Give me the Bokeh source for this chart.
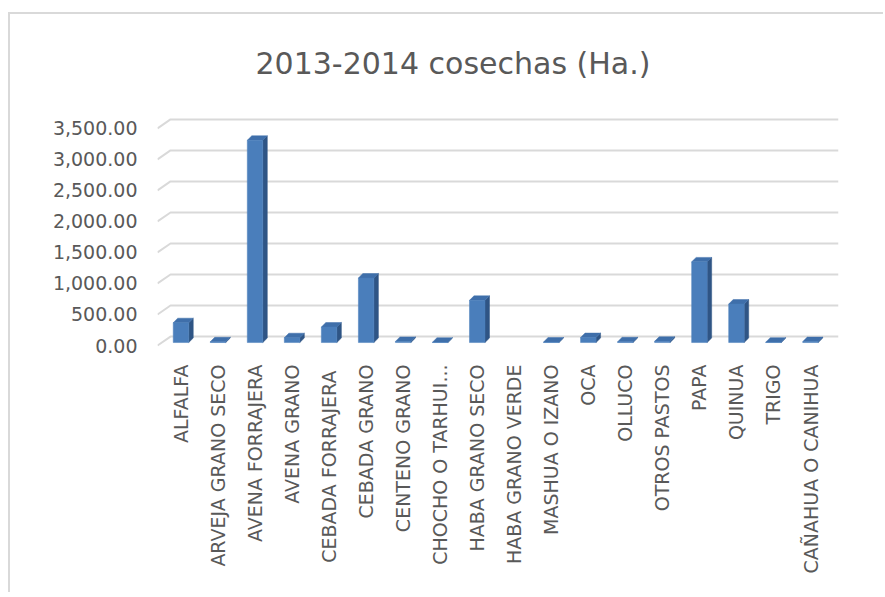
import math
from bokeh.plotting import figure
from bokeh.models import FixedTicker, NumeralTickFormatter
from bokeh.embed import file_html
from bokeh.resources import INLINE

# ---- data ----
crops = [
    "ALFALFA", "ARVEJA GRANO SECO", "AVENA FORRAJERA", "AVENA GRANO",
    "CEBADA  FORRAJERA", "CEBADA GRANO", "CENTENO GRANO", "CHOCHO O TARHUI...",
    "HABA GRANO SECO", "HABA GRANO VERDE", "MASHUA O IZANO", "OCA", "OLLUCO",
    "OTROS PASTOS", "PAPA", "QUINUA", "TRIGO", "CAÑAHUA O CANIHUA",
]
hectares = [320, 12, 3260, 78, 250, 1040, 18, 5, 680, 0, 8, 80, 12, 20, 1300, 620, 6, 15]
y_ticks = [0, 500, 1000, 1500, 2000, 2500, 3000, 3500]
title_text = "2013-2014  cosechas (Ha.)"

# ---- geometry helpers (pixel -> data units) ----
PX_X = 1 / 37.03
PX_Y = 16.05
BAR_W = 15.5 * PX_X
DEPTH_X = 4.5 * PX_X
DEPTH_Y = 4.5 * PX_Y
BASE = 3 * PX_Y
WALL_X = 13 * PX_X
WALL_Y = 9 * PX_Y

x_start = -23.5 * PX_X
x_end = (len(crops) - 1) + 28 * PX_X
y_start = -5 * PX_Y
y_end = y_start + 240 * PX_Y

TEXT = "#595959"
FONT = "DejaVu Sans"

p = figure(
    width=875, height=580,
    x_range=(x_start, x_end), y_range=(y_start, y_end),
    output_backend="svg", toolbar_location=None,
    min_border_left=147, min_border_right=47,
    min_border_top=96, min_border_bottom=244,
)
p.styles = {
    "margin-top": "12px",
    "margin-left": "8px",
    "border-top": "2px solid #D9D9D9",
    "border-left": "2px solid #D9D9D9",
}

# gridlines with the 3D wall slant
gx, gy = [], []
for v in y_ticks:
    gx.append([x_start, x_start + WALL_X, x_end])
    gy.append([v, v + WALL_Y, v + WALL_Y])
p.multi_line(gx, gy, line_color="#D9D9D9", line_width=2)

# bars (front, side, top faces)
fl, fr, fb, ft = [], [], [], []
sx, sy, tx, ty = [], [], [], []
for i, v in enumerate(hectares):
    if v <= 0:
        continue
    l, r = i - BAR_W / 2, i + BAR_W / 2
    b, t = BASE, v + BASE
    fl.append(l); fr.append(r); fb.append(b); ft.append(t)
    sx.append([r, r + DEPTH_X, r + DEPTH_X, r])
    sy.append([b, b + DEPTH_Y, t + DEPTH_Y, t])
    tx.append([l, r, r + DEPTH_X, l + DEPTH_X])
    ty.append([t, t, t + DEPTH_Y, t + DEPTH_Y])

p.patches(sx, sy, fill_color="#2F5585", line_color="#2F5585", line_width=0.5)
p.patches(tx, ty, fill_color="#3F6FAA", line_color="#3F6FAA", line_width=0.5)
p.quad(left=fl, right=fr, bottom=fb, top=ft, fill_color="#4A7EBB", line_color="#4A7EBB", line_width=0.5)

# axes
p.xgrid.visible = False
p.ygrid.visible = False
p.outline_line_color = None

p.xaxis.ticker = FixedTicker(ticks=list(range(len(crops))))
p.xaxis.major_label_overrides = {i: c for i, c in enumerate(crops)}
p.xaxis.major_label_orientation = math.pi / 2
p.xaxis.axis_line_color = None
p.xaxis.major_tick_line_color = None
p.xaxis.minor_tick_line_color = None
p.xaxis.major_label_standoff = 8
p.xaxis.major_label_text_font = FONT
p.xaxis.major_label_text_font_size = "19px"
p.xaxis.major_label_text_color = TEXT

p.yaxis.ticker = FixedTicker(ticks=y_ticks)
p.yaxis.formatter = NumeralTickFormatter(format="0,0.00")
p.yaxis.axis_line_color = None
p.yaxis.major_tick_line_color = None
p.yaxis.minor_tick_line_color = None
p.yaxis.major_label_standoff = 14
p.yaxis.major_label_text_font = FONT
p.yaxis.major_label_text_font_size = "19px"
p.yaxis.major_label_text_color = TEXT

p.title.text = title_text
p.title.text_font = FONT
p.title.text_font_size = "30px"
p.title.text_font_style = "normal"
p.title.text_color = TEXT
p.title.align = "left"
p.title.vertical_align = "middle"
p.title.offset = 98
p.title.standoff = 60

open("out.html", "w").write(file_html(p, INLINE))
